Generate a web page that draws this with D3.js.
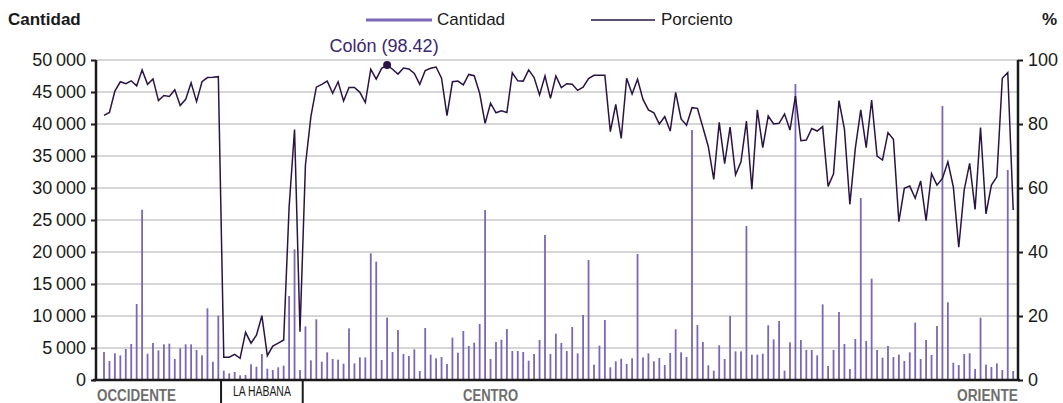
<!DOCTYPE html>
<html>
<head>
<meta charset="utf-8">
<script src="https://cdn.jsdelivr.net/npm/d3@7"></script>
<style>
  body { margin: 0; background: #fff; }
  svg { display: block; font-family: "Liberation Sans Narrow", "Liberation Sans", "DejaVu Sans", sans-serif; font-stretch: condensed; }
</style>
</head>
<body>
<svg width="1063" height="403"></svg>
<script>
// cantidad por municipio (168), en orden de occidente a oriente
var cantidad = [
  4380, 2970, 4170, 3850, 4840, 5620, 11870, 26600, 4110, 5780,
  4630, 5570, 5680, 3280, 4950, 5570, 5570, 4690, 3850, 11200,
  2860, 10050, 1460, 1040, 1250, 730, 780, 2450, 2080, 4060,
  1770, 1560, 1980, 2240, 13120, 20420, 1560, 8380, 3070, 9480,
  2860, 4320, 3280, 3180, 2550, 8070, 2600, 3540, 3540, 19790,
  18490, 3120, 9740, 4380, 7810, 4060, 3750, 4790, 1400, 8120,
  3960, 3390, 3590, 2500, 6610, 4270, 7660, 5310, 5830, 8750,
  26560, 3280, 5940, 6300, 7970, 4530, 4530, 4380, 3020, 4060,
  6250, 22660, 4060, 7240, 5780, 4530, 8280, 4170, 10160, 18750,
  2400, 5360, 9380, 1980, 2920, 3330, 2500, 3390, 19690, 3540,
  4170, 2920, 3440, 2340, 4220, 7920, 4320, 3590, 39060, 8590,
  5940, 2290, 1460, 5420, 3280, 10000, 4480, 4480, 24060, 3960,
  3960, 4110, 8540, 6350, 9220, 1460, 5890, 46250, 6250, 4690,
  4690, 3850, 11820, 2190, 4690, 10620, 5620, 1720, 6400, 28440,
  6090, 15830, 4690, 3490, 5310, 3590, 3960, 2970, 4320, 8960,
  3280, 6250, 3910, 8440, 42810, 12140, 2710, 2340, 4060, 4170,
  1720, 9740, 2400, 2030, 2600, 1560, 32810, 1400
];

var porciento = [
  82.7, 83.6, 90.3, 93.2, 92.6, 93.5, 91.9, 96.9, 92.4, 94.1,
  87.3, 88.9, 88.6, 90.7, 85.8, 87.7, 92.9, 87.0, 93.2, 94.5,
  94.6, 94.8, 7.1, 7.1, 8.0, 6.8, 14.9, 11.5, 14.0, 20.1,
  7.6, 10.6, 11.5, 12.5, 54.0, 78.3, 15.1, 67.2, 82.3, 91.5,
  92.4, 93.4, 89.6, 93.2, 87.2, 91.4, 91.4, 89.9, 86.7, 97.1,
  94.0, 97.4, 98.42, 97.1, 95.6, 97.5, 97.2, 95.8, 92.4, 96.7,
  97.4, 97.8, 94.3, 82.6, 93.2, 93.4, 92.2, 95.5, 95.1, 89.6,
  80.2, 86.5, 83.5, 84.1, 83.6, 96.0, 93.5, 93.4, 96.9, 94.5,
  89.1, 95.0, 88.0, 95.0, 91.4, 92.6, 92.4, 90.5, 91.5, 94.2,
  95.2, 95.2, 95.2, 77.6, 86.1, 75.5, 94.3, 89.4, 94.0, 87.7,
  84.4, 83.5, 80.0, 82.3, 77.8, 89.9, 81.6, 79.6, 85.1, 84.9,
  79.0, 72.9, 62.7, 80.5, 67.6, 79.0, 64.1, 68.2, 80.9, 59.6,
  84.4, 72.6, 82.5, 80.0, 80.2, 83.1, 78.1, 88.75, 74.8, 75.0,
  78.6, 77.8, 79.2, 60.5, 64.4, 87.3, 78.4, 54.9, 72.4, 84.4,
  72.6, 87.5, 70.0, 68.75, 77.3, 75.2, 49.5, 59.9, 60.6, 56.8,
  62.2, 49.8, 64.5, 60.9, 63.0, 68.2, 60.4, 41.5, 59.4, 67.7,
  53.3, 78.9, 51.9, 60.9, 63.5, 94.3, 96.1, 53.1
];

var regiones = ["OCCIDENTE", "LA HABANA", "CENTRO", "ORIENTE"];
var municipiosPorRegion = [22, 15, 69, 62];

var destacado = { nombre: "Colón", indice: 52 };

var ticksCantidad = [0, 5000, 10000, 15000, 20000, 25000, 30000, 35000, 40000, 45000, 50000];
var ticksPorciento = [0, 20, 40, 60, 80, 100];

var colorBarra = "#7b67b6",
    colorLinea = "#2a1444",
    colorTexto = "#1a1a1a";

var svg = d3.select("svg");
var mLeft = 96, mRight = 1018, mTop = 60, mBottom = 380;

var x = d3.scalePoint()
    .domain(d3.range(cantidad.length))
    .range([104, 1013.2]);
var step = x.step();

var y = d3.scaleLinear().domain([0, 50000]).range([mBottom, mTop]);
var y2 = d3.scaleLinear().domain([0, 100]).range([mBottom, mTop]);

var fmt = function (d) {
    return d3.format(",")(d).replace(/,/g, "\u2009");
};

// rejilla
svg.append("g")
    .selectAll("line")
    .data(ticksCantidad.slice(1))
    .enter().append("line")
    .attr("x1", mLeft).attr("x2", mRight)
    .attr("y1", function (d) { return y(d); })
    .attr("y2", function (d) { return y(d); })
    .attr("stroke", "#c9c9c9")
    .attr("stroke-width", 1.5);

// barras
svg.append("g")
    .selectAll("rect")
    .data(cantidad)
    .enter().append("rect")
    .attr("x", function (d, i) { return x(i) - 0.9; })
    .attr("width", 1.8)
    .attr("y", function (d) { return y(d); })
    .attr("height", function (d) { return mBottom - y(d); })
    .attr("fill", colorBarra);

// linea de porciento
var line = d3.line()
    .x(function (d, i) { return x(i); })
    .y(function (d) { return y2(d); });

svg.append("path")
    .datum(porciento)
    .attr("d", line)
    .attr("fill", "none")
    .attr("stroke", colorLinea)
    .attr("stroke-width", 1.5);

// ejes
var axisL = svg.append("g")
    .attr("transform", "translate(" + mLeft + ",0)")
    .call(d3.axisLeft(y).tickValues(ticksCantidad).tickFormat(fmt).tickSize(5).tickPadding(5));
var axisR = svg.append("g")
    .attr("transform", "translate(" + mRight + ",0)")
    .call(d3.axisRight(y2).tickValues(ticksPorciento).tickSize(5).tickPadding(5));

[axisL, axisR].forEach(function (a) {
    a.attr("font-family", null);
    a.select(".domain").attr("stroke", colorTexto).attr("stroke-width", 2.5)
        .attr("d", "M0," + mTop + "V" + mBottom);
    a.selectAll(".tick line").attr("stroke", colorTexto).attr("stroke-width", 2);
    a.selectAll(".tick text").attr("fill", colorTexto).style("font-size", "18px");
});

svg.append("line")
    .attr("x1", mLeft - 3).attr("x2", mRight + 2)
    .attr("y1", mBottom).attr("y2", mBottom)
    .attr("stroke", colorTexto)
    .attr("stroke-width", 2.5);

// regiones
var cuenta = 0, limites = [];
municipiosPorRegion.forEach(function (n) {
    limites.push([cuenta, cuenta + n - 1]);
    cuenta += n;
});

[1, 2].forEach(function (r) {
    var xs = x(limites[r][0]) - step / 2;
    svg.append("line")
        .attr("x1", xs).attr("x2", xs)
        .attr("y1", mBottom).attr("y2", 403)
        .attr("stroke", colorTexto)
        .attr("stroke-width", 2);
});

var anchoEtiqueta = [79, 58, 55, 61];
regiones.forEach(function (nombre, r) {
    var t = svg.append("text").text(nombre)
        .attr("textLength", anchoEtiqueta[r])
        .attr("lengthAdjust", "spacingAndGlyphs");
    if (r === 1) {
        t.attr("x", (x(limites[r][0]) + x(limites[r][1])) / 2)
            .attr("y", 396)
            .attr("text-anchor", "middle")
            .attr("fill", colorTexto)
            .style("font-size", "14px");
    } else {
        var xr = r === 0 ? x(limites[r][0]) - 7 : r === 3 ? mRight : (x(limites[r][0]) + x(limites[r][1])) / 2;
        t.attr("x", xr)
            .attr("y", 401)
            .attr("text-anchor", r === 0 ? "start" : r === 3 ? "end" : "middle")
            .attr("fill", "#6d6d6d")
            .style("font-size", "16px")
            .style("font-weight", "bold");
    }
});

// punto destacado
svg.append("circle")
    .attr("cx", x(destacado.indice))
    .attr("cy", y2(porciento[destacado.indice]))
    .attr("r", 4)
    .attr("fill", colorLinea);
svg.append("text")
    .attr("x", x(destacado.indice) - 3)
    .attr("y", 52)
    .attr("text-anchor", "middle")
    .attr("fill", "#3b2770")
    .style("font-size", "18px")
    .text(destacado.nombre + " (" + porciento[destacado.indice].toFixed(2) + ")");

// titulos de ejes
svg.append("text").attr("x", 8).attr("y", 25)
    .style("font-size", "17px").style("font-weight", "bold").attr("fill", colorTexto)
    .text("Cantidad");
svg.append("text").attr("x", 1057).attr("y", 25).attr("text-anchor", "end")
    .style("font-size", "17px").style("font-weight", "bold").attr("fill", colorTexto)
    .text("%");

// leyenda
var legend = svg.append("g");
legend.append("line").attr("x1", 366).attr("x2", 432).attr("y1", 20).attr("y2", 20)
    .attr("stroke", colorBarra).attr("stroke-width", 3);
legend.append("text").attr("x", 437).attr("y", 25).style("font-size", "17px").attr("fill", colorTexto)
    .text("Cantidad");
legend.append("line").attr("x1", 591).attr("x2", 655).attr("y1", 20).attr("y2", 20)
    .attr("stroke", colorLinea).attr("stroke-width", 1.5);
legend.append("text").attr("x", 661).attr("y", 25).style("font-size", "17px").attr("fill", colorTexto)
    .text("Porciento");
</script>
</body>
</html>
